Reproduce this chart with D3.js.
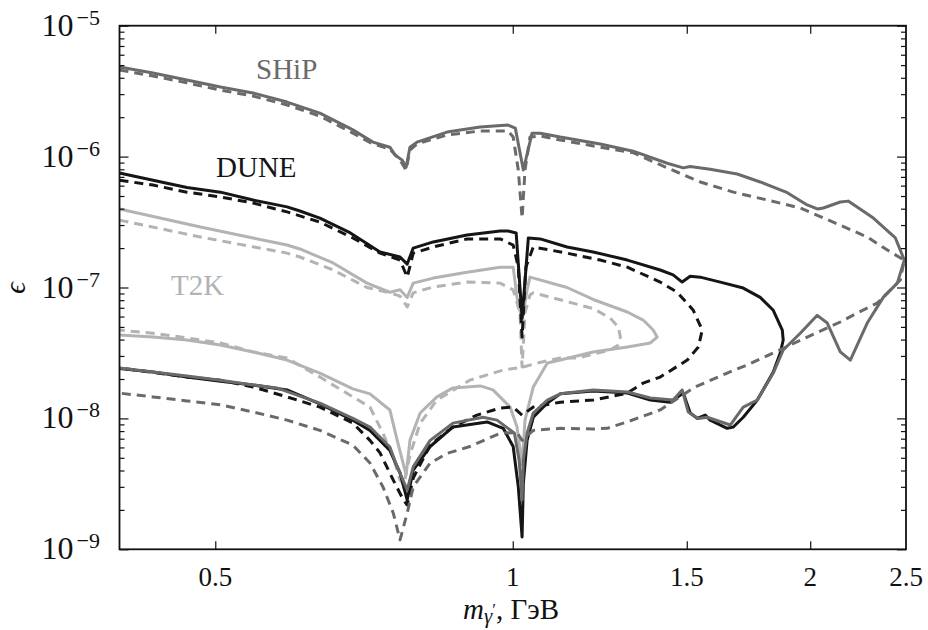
<!DOCTYPE html>
<html>
<head>
<meta charset="utf-8">
<script src="https://cdn.jsdelivr.net/npm/d3@7"></script>
<style>
  html, body { margin: 0; padding: 0; background: #fff; }
  svg { display: block; }
</style>
</head>
<body>
<svg id="chart" width="928" height="630" font-family="'Liberation Serif', 'Times New Roman', 'DejaVu Serif', serif"></svg>
<script>
// Sensitivity contours: dark photon mass (GeV) vs kinetic mixing epsilon.
// Each contour runs along the upper edge left to right, round the tip,
// and back along the lower edge.

const massTicks = [0.5, 1, 1.5, 2, 2.5];
const massTickLabels = ["0.5", "1", "1.5", "2", "2.5"];
const epsTicks = [1e-9, 1e-8, 1e-7, 1e-6, 1e-5];
const epsTickExponents = ["−9", "−8", "−7", "−6", "−5"];

const experiments = ["SHiP", "DUNE", "T2K"];

const shipSolid = [
  [0.400, 4.83e-6], [0.4325, 4.35e-6], [0.468, 3.85e-6], [0.506, 3.40e-6], [0.546, 3.06e-6],
  [0.591, 2.61e-6], [0.638, 2.15e-6], [0.689, 1.60e-6], [0.722, 1.29e-6], [0.751, 1.18e-6],
  [0.760, 1.03e-6], [0.773, 9.4e-7], [0.780, 8.3e-7], [0.787, 1.18e-6], [0.800, 1.29e-6],
  [0.858, 1.54e-6], [0.927, 1.68e-6], [0.989, 1.74e-6], [1.006, 1.65e-6], [1.025, 7.9e-7],
  [1.046, 1.51e-6], [1.066, 1.51e-6], [1.117, 1.41e-6], [1.226, 1.25e-6], [1.324, 1.10e-6],
  [1.433, 8.9e-7], [1.488, 8.2e-7], [1.512, 8.4e-7], [1.584, 8.0e-7], [1.687, 7.36e-7],
  [1.780, 6.4e-7], [1.896, 5.3e-7], [1.986, 4.27e-7], [2.033, 3.98e-7], [2.062, 4.05e-7],
  [2.145, 4.5e-7], [2.185, 4.57e-7], [2.317, 3.39e-7], [2.439, 2.39e-7], [2.490, 1.62e-7],
  [2.450, 1.08e-7], [2.371, 8.4e-8], [2.284, 5.35e-8], [2.196, 2.79e-8], [2.145, 3.22e-8],
  [2.081, 5.35e-8], [2.033, 6.13e-8], [1.954, 4.47e-8], [1.878, 3.33e-8], [1.835, 2.22e-8],
  [1.768, 1.38e-8], [1.711, 1.22e-8], [1.660, 8.9e-9], [1.573, 1.02e-8], [1.541, 1.0e-8],
  [1.505, 1.12e-8], [1.484, 1.65e-8], [1.453, 1.38e-8], [1.378, 1.43e-8], [1.306, 1.59e-8],
  [1.206, 1.65e-8], [1.117, 1.54e-8], [1.084, 1.38e-8], [1.049, 1.10e-8], [1.034, 7.7e-9],
  [1.025, 4.8e-9], [1.022, 2.38e-9], [1.015, 4.8e-9], [1.004, 7.7e-9], [0.964, 9.7e-9],
  [0.933, 1.02e-8], [0.870, 9.2e-9], [0.825, 6.8e-9], [0.793, 4.26e-9], [0.782, 2.84e-9],
  [0.764, 4.26e-9], [0.751, 6.05e-9], [0.717, 8.6e-9], [0.689, 1.0e-8], [0.638, 1.31e-8],
  [0.577, 1.71e-8], [0.546, 1.80e-8], [0.506, 1.96e-8], [0.468, 2.11e-8], [0.4325, 2.26e-8],
  [0.400, 2.43e-8]
];

const shipDashed = [
  [0.400, 4.58e-6], [0.4325, 4.13e-6], [0.468, 3.66e-6], [0.506, 3.22e-6], [0.546, 2.90e-6],
  [0.591, 2.48e-6], [0.638, 2.04e-6], [0.689, 1.51e-6], [0.722, 1.25e-6], [0.751, 1.14e-6],
  [0.769, 9.4e-7], [0.780, 7.9e-7], [0.787, 1.12e-6], [0.800, 1.25e-6], [0.858, 1.46e-6],
  [0.927, 1.57e-6], [0.989, 1.57e-6], [1.001, 1.41e-6], [1.013, 7.9e-7], [1.022, 3.39e-7],
  [1.029, 7.9e-7], [1.041, 1.41e-6], [1.066, 1.44e-6], [1.117, 1.34e-6], [1.226, 1.18e-6],
  [1.324, 1.07e-6], [1.433, 8.2e-7], [1.548, 6.4e-7], [1.672, 5.35e-7], [1.809, 4.66e-7],
  [1.954, 4.05e-7], [2.110, 3.16e-7], [2.284, 2.43e-7], [2.410, 1.87e-7], [2.490, 1.62e-7],
  [2.467, 1.14e-7], [2.338, 7.6e-8], [2.232, 6.4e-8], [2.145, 5.45e-8], [1.986, 4.18e-8],
  [1.835, 3.16e-8], [1.727, 2.56e-8], [1.648, 2.22e-8], [1.523, 1.71e-8], [1.410, 1.16e-8],
  [1.306, 9.4e-9], [1.246, 8.4e-9], [1.206, 8.3e-9], [1.117, 8.4e-9], [1.049, 8.1e-9],
  [1.022, 6.8e-9], [1.010, 7.8e-9], [0.971, 7.7e-9], [0.905, 6.1e-9], [0.858, 5.4e-9],
  [0.825, 4.56e-9], [0.793, 3.0e-9], [0.782, 1.89e-9], [0.769, 1.18e-9], [0.757, 1.89e-9],
  [0.739, 3.0e-9], [0.717, 4.56e-9], [0.689, 6.25e-9], [0.638, 8.1e-9], [0.591, 9.7e-9],
  [0.546, 1.12e-8], [0.506, 1.27e-8], [0.468, 1.36e-8], [0.4325, 1.46e-8], [0.400, 1.56e-8]
];

const duneSolid = [
  [0.400, 7.5e-7], [0.4325, 6.6e-7], [0.468, 5.8e-7], [0.506, 5.35e-7], [0.546, 4.66e-7],
  [0.591, 4.13e-7], [0.609, 3.84e-7], [0.638, 3.39e-7], [0.685, 2.61e-7], [0.734, 1.87e-7],
  [0.769, 1.71e-7], [0.782, 1.51e-7], [0.793, 2.0e-7], [0.831, 2.23e-7], [0.899, 2.52e-7],
  [0.971, 2.70e-7], [0.989, 2.70e-7], [1.008, 2.61e-7], [1.022, 5.84e-8], [1.037, 2.39e-7],
  [1.066, 2.35e-7], [1.135, 2.04e-7], [1.206, 1.87e-7], [1.306, 1.62e-7], [1.410, 1.36e-7],
  [1.453, 1.25e-7], [1.484, 1.10e-7], [1.512, 1.22e-7], [1.548, 1.20e-7], [1.622, 1.10e-7],
  [1.711, 9.9e-8], [1.780, 8.4e-8], [1.835, 6.7e-8], [1.874, 4.73e-8], [1.878, 3.97e-8],
  [1.865, 3.16e-8], [1.835, 2.26e-8], [1.768, 1.38e-8], [1.711, 1.02e-8], [1.672, 8.6e-9],
  [1.648, 8.4e-9], [1.584, 9.7e-9], [1.566, 1.06e-8], [1.537, 1.0e-8], [1.512, 1.10e-8],
  [1.488, 1.56e-8], [1.443, 1.33e-8], [1.378, 1.38e-8], [1.306, 1.56e-8], [1.206, 1.62e-8],
  [1.117, 1.54e-8], [1.084, 1.31e-8], [1.049, 1.02e-8], [1.034, 6.8e-9], [1.025, 3.2e-9],
  [1.022, 1.24e-9], [1.013, 3.0e-9], [1.001, 6.1e-9], [0.978, 8.4e-9], [0.942, 9.4e-9],
  [0.870, 8.6e-9], [0.825, 6.1e-9], [0.793, 4.03e-9], [0.782, 2.38e-9], [0.769, 3.83e-9],
  [0.751, 5.7e-9], [0.717, 8.1e-9], [0.689, 9.7e-9], [0.638, 1.29e-8], [0.591, 1.65e-8],
  [0.546, 1.80e-8], [0.506, 1.92e-8], [0.468, 2.07e-8], [0.4325, 2.26e-8], [0.400, 2.40e-8]
];

const duneDashed = [
  [0.400, 6.6e-7], [0.4325, 6.06e-7], [0.468, 5.35e-7], [0.506, 4.92e-7], [0.546, 4.42e-7],
  [0.591, 3.78e-7], [0.638, 3.16e-7], [0.689, 2.39e-7], [0.734, 1.83e-7], [0.769, 1.62e-7],
  [0.782, 1.20e-7], [0.793, 1.83e-7], [0.831, 2.04e-7], [0.899, 2.35e-7], [0.971, 2.35e-7],
  [1.001, 2.11e-7], [1.013, 1.43e-7], [1.022, 4.18e-8], [1.031, 1.43e-7], [1.049, 2.04e-7],
  [1.135, 1.83e-7], [1.226, 1.62e-7], [1.306, 1.43e-7], [1.410, 1.10e-7], [1.467, 9.2e-8],
  [1.523, 6.7e-8], [1.555, 4.73e-8], [1.541, 3.51e-8], [1.502, 2.79e-8], [1.410, 2.07e-8],
  [1.355, 1.86e-8], [1.306, 1.56e-8], [1.206, 1.38e-8], [1.117, 1.33e-8], [1.049, 1.22e-8],
  [1.022, 1.06e-8], [1.001, 1.22e-8], [0.971, 1.20e-8], [0.920, 1.06e-8], [0.870, 8.6e-9],
  [0.825, 6.25e-9], [0.793, 3.5e-9], [0.782, 2.18e-9], [0.775, 2.38e-9], [0.757, 3.38e-9],
  [0.734, 5.45e-9], [0.717, 6.8e-9], [0.689, 9.2e-9], [0.638, 1.22e-8], [0.591, 1.46e-8],
  [0.546, 1.74e-8], [0.506, 1.96e-8], [0.468, 2.07e-8], [0.400, 2.43e-8]
];

const t2kSolid = [
  [0.400, 3.98e-7], [0.483, 2.90e-7], [0.546, 2.39e-7], [0.591, 2.11e-7], [0.609, 1.97e-7],
  [0.658, 1.54e-7], [0.712, 1.08e-7], [0.751, 9.2e-8], [0.769, 9.6e-8], [0.782, 8.4e-8],
  [0.793, 1.08e-7], [0.831, 1.18e-7], [0.899, 1.31e-7], [0.971, 1.43e-7], [1.001, 1.43e-7],
  [1.010, 8.4e-8], [1.022, 5.64e-8], [1.034, 9.6e-8], [1.041, 1.20e-7], [1.135, 1.0e-7],
  [1.206, 8.1e-8], [1.306, 6.5e-8], [1.355, 5.64e-8], [1.387, 4.73e-8], [1.400, 4.18e-8],
  [1.378, 3.77e-8], [1.306, 3.51e-8], [1.206, 3.22e-8], [1.117, 2.79e-8], [1.084, 2.65e-8],
  [1.049, 1.74e-8], [1.029, 9.7e-9], [1.022, 4.4e-9], [1.010, 8.6e-9], [0.994, 1.22e-8],
  [0.955, 1.65e-8], [0.927, 1.77e-8], [0.870, 1.71e-8], [0.838, 1.46e-8], [0.806, 1.10e-8],
  [0.787, 6.8e-9], [0.780, 3.7e-9], [0.764, 6.8e-9], [0.751, 1.16e-8], [0.717, 1.54e-8],
  [0.689, 1.68e-8], [0.638, 2.22e-8], [0.591, 2.79e-8], [0.546, 3.22e-8], [0.506, 3.64e-8],
  [0.468, 3.97e-8], [0.4325, 4.18e-8], [0.400, 4.34e-8]
];

const t2kDashed = [
  [0.400, 3.27e-7], [0.483, 2.43e-7], [0.591, 1.83e-7], [0.609, 1.71e-7], [0.658, 1.36e-7],
  [0.712, 1.0e-7], [0.751, 9.1e-8], [0.769, 8.6e-8], [0.782, 7.1e-8], [0.793, 9.1e-8],
  [0.831, 1.01e-7], [0.899, 1.10e-7], [0.971, 1.08e-7], [1.001, 9.6e-8], [1.017, 6.4e-8],
  [1.022, 2.47e-8], [1.029, 6.4e-8], [1.041, 8.8e-8], [1.049, 9.1e-8], [1.135, 7.8e-8],
  [1.206, 6.9e-8], [1.255, 5.84e-8], [1.279, 4.99e-8], [1.285, 4.18e-8], [1.279, 3.64e-8],
  [1.255, 3.33e-8], [1.162, 2.89e-8], [1.117, 2.89e-8], [1.059, 2.65e-8], [1.025, 2.47e-8],
  [0.978, 2.34e-8], [0.905, 1.96e-8], [0.838, 1.38e-8], [0.806, 9.2e-9], [0.787, 5.25e-9],
  [0.776, 3.15e-9], [0.769, 3.38e-9], [0.757, 5.05e-9], [0.739, 7.7e-9], [0.717, 1.22e-8],
  [0.689, 1.46e-8], [0.638, 2.07e-8], [0.591, 2.89e-8], [0.546, 3.22e-8], [0.506, 3.77e-8],
  [0.468, 4.12e-8], [0.4325, 4.47e-8], [0.400, 4.73e-8]
];

const colors = { SHiP: "#6a6a6a", DUNE: "#151515", T2K: "#b3b3b3" };

const W = 928, H = 630;
const plot = { left: 119.5, right: 906, top: 25.7, bottom: 549.3 };

const svg = d3.select("#chart");
svg.append("rect").attr("width", W).attr("height", H).attr("fill", "#fff");

const x = d3.scaleLog().domain([0.4, 2.5]).range([plot.left, plot.right]);
const y = d3.scaleLog().domain([1e-9, 1e-5]).range([plot.bottom, plot.top]);

svg.append("defs").append("clipPath").attr("id", "plotClip")
  .append("rect")
  .attr("x", plot.left).attr("y", plot.top)
  .attr("width", plot.right - plot.left).attr("height", plot.bottom - plot.top);

const line = d3.line().x(d => x(d[0])).y(d => y(d[1])).curve(d3.curveLinear);

const curves = [
  { data: t2kSolid, exp: "T2K", dashed: false },
  { data: t2kDashed, exp: "T2K", dashed: true },
  { data: duneSolid, exp: "DUNE", dashed: false },
  { data: duneDashed, exp: "DUNE", dashed: true },
  { data: shipSolid, exp: "SHiP", dashed: false },
  { data: shipDashed, exp: "SHiP", dashed: true }
];

const g = svg.append("g").attr("clip-path", "url(#plotClip)");
g.selectAll("path.curve").data(curves).join("path")
  .attr("class", "curve")
  .attr("d", d => line(d.data))
  .attr("fill", "none")
  .attr("stroke", d => colors[d.exp])
  .attr("stroke-width", 3)
  .attr("stroke-linejoin", "round")
  .attr("stroke-dasharray", d => d.dashed ? "9,6" : null);

// Frame and inward ticks
const minorTicks = [];
for (let e = -9; e < -5; e++) for (let k = 2; k <= 9; k++) minorTicks.push(k * Math.pow(10, e));

function styleAxis(sel) {
  sel.select(".domain").remove();
  sel.selectAll(".tick line").attr("stroke", "#111").attr("stroke-width", 1.2);
  sel.selectAll(".tick text").remove();
}

svg.append("g").attr("transform", `translate(${plot.left},0)`)
  .call(d3.axisLeft(y).tickValues(epsTicks).tickSize(-9).tickFormat("")).call(styleAxis);
svg.append("g").attr("transform", `translate(${plot.left},0)`)
  .call(d3.axisLeft(y).tickValues(minorTicks).tickSize(-5).tickFormat("")).call(styleAxis);
svg.append("g").attr("transform", `translate(${plot.right},0)`)
  .call(d3.axisRight(y).tickValues(epsTicks).tickSize(-9).tickFormat("")).call(styleAxis);
svg.append("g").attr("transform", `translate(${plot.right},0)`)
  .call(d3.axisRight(y).tickValues(minorTicks).tickSize(-5).tickFormat("")).call(styleAxis);
svg.append("g").attr("transform", `translate(0,${plot.bottom})`)
  .call(d3.axisBottom(x).tickValues(massTicks.slice(0, 4)).tickSize(-8).tickFormat("")).call(styleAxis);
svg.append("g").attr("transform", `translate(0,${plot.top})`)
  .call(d3.axisTop(x).tickValues(massTicks.slice(0, 4)).tickSize(-8).tickFormat("")).call(styleAxis);

svg.append("rect")
  .attr("x", plot.left).attr("y", plot.top)
  .attr("width", plot.right - plot.left).attr("height", plot.bottom - plot.top)
  .attr("fill", "none").attr("stroke", "#111").attr("stroke-width", 1.8);

// Tick labels
svg.append("g").selectAll("text").data(massTicks).join("text")
  .attr("x", d => x(d)).attr("y", plot.bottom + 37)
  .attr("text-anchor", "middle").attr("font-size", 27).attr("fill", "#111")
  .text((d, i) => massTickLabels[i]);

const yl = svg.append("g").selectAll("text").data(epsTicks).join("text")
  .attr("x", 100).attr("y", d => y(d) + 10)
  .attr("text-anchor", "end").attr("font-size", 32).attr("fill", "#111");
yl.append("tspan").text("10");
yl.append("tspan").attr("dy", -11).attr("dx", 3).attr("font-size", 22)
  .text((d, i) => epsTickExponents[i]);

// Axis titles
const xt = svg.append("text").attr("x", 511).attr("y", 619)
  .attr("text-anchor", "middle").attr("font-size", 29).attr("fill", "#111");
xt.append("tspan").attr("font-style", "italic").text("m");
xt.append("tspan").attr("font-style", "italic").attr("font-size", 21).attr("dy", 4).text("γ");
xt.append("tspan").attr("font-size", 17).attr("dy", -8).text("′");
xt.append("tspan").attr("dy", 4).text(", ГэВ");

svg.append("text")
  .attr("transform", "translate(25,288) rotate(-90)")
  .attr("text-anchor", "middle").attr("font-size", 29).attr("font-style", "italic")
  .attr("fill", "#111").text("ϵ");

// Experiment labels
const labelPos = { SHiP: [256, 79], DUNE: [216, 177], T2K: [171, 295] };
svg.append("g").selectAll("text").data(experiments).join("text")
  .attr("x", d => labelPos[d][0]).attr("y", d => labelPos[d][1])
  .attr("font-size", 29).attr("fill", d => colors[d])
  .text(d => d);
</script>
</body>
</html>
